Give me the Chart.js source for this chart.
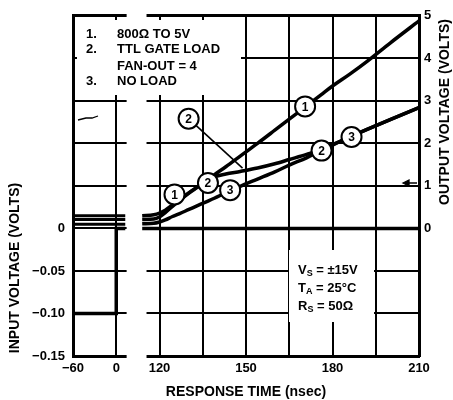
<!DOCTYPE html>
<html>
<head>
<meta charset="utf-8">
<script src="https://cdn.jsdelivr.net/npm/chart.js@4.4.1/dist/chart.umd.min.js"></script>
<style>
  html, body { margin: 0; padding: 0; background: #fff; }
  #wrap { width: 453px; height: 400px; }
</style>
</head>
<body>
<div id="wrap"><canvas id="respChart" width="453" height="400"></canvas></div>
<script>
// time before the axis break (nsec) - drawn squeezed
const inTimeLeft = [-60, 0, 0, 12.5];
const inVoltLeft = [-0.10, -0.10, 0, 0];
const outTimeLeft = [-60, 12.5];
const out1Left = [0.30, 0.30];
const out2Left = [0.21, 0.21];
const out3Left = [0.10, 0.10];

// time after the break (nsec)
const inTimeRight = [114, 210];
const inVoltRight = [0, 0];
const outTime = [114, 118, 120, 122, 124.5, 127, 130, 133, 136, 139, 143, 148, 154, 160, 165, 171, 176, 180, 186, 192, 200, 210];
const out1 = [0.30, 0.32, 0.36, 0.43, 0.55, 0.68, 0.83, 0.97, 1.11, 1.26, 1.45, 1.70, 2.00, 2.31, 2.57, 2.88, 3.14, 3.35, 3.63, 3.93, 4.36, 4.88];
const out2 = [0.21, 0.22, 0.27, 0.37, 0.52, 0.66, 0.82, 0.96, 1.10, 1.21, 1.28, 1.34, 1.42, 1.52, 1.62, 1.74, 1.85, 1.97, 2.15, 2.33, 2.56, 2.84];
const out3 = [0.11, 0.12, 0.15, 0.20, 0.28, 0.35, 0.44, 0.53, 0.62, 0.71, 0.84, 0.99, 1.16, 1.33, 1.49, 1.66, 1.83, 1.96, 2.15, 2.33, 2.56, 2.84];

// tick labels
const timeTicks = [-60, 0, 120, 150, 180, 210];
const inputTicks = [0, -0.05, -0.10, -0.15];
const inputTickText = ['0', '\u22120.05', '\u22120.10', '\u22120.15'];
const outputTicks = [0, 1, 2, 3, 4, 5];

const legendLines = [['1.', '800\u03A9 TO 5V'], ['2.', 'TTL GATE LOAD'], ['', 'FAN-OUT = 4'], ['3.', 'NO LOAD']];
const conditions = [['V', 'S', ' = \u00B115V'], ['T', 'A', ' = 25\u00B0C'], ['R', 'S', ' = 50\u03A9']];

// curve tags: label, time, output volts
const tags = [
  ['1', 125.2, 0.80], ['2', 136.8, 1.07], ['3', 144.5, 0.90],
  ['2', 130.1, 2.58], ['1', 170.5, 2.87], ['2', 176.2, 1.83], ['3', 186.6, 2.15]
];

// broken axis: the -60..0 part is squeezed 4x and sits left of 120
const ZERO_AT = 105, SQUEEZE = 4;
function toAxis(t) { return t < 60 ? ZERO_AT + t / SQUEEZE : t; }
function pts(times, volts) { return times.map((t, i) => ({ x: toAxis(t), y: volts[i] })); }

const FONT = '"Liberation Sans", Arial, sans-serif';
Chart.defaults.font.family = FONT;
Chart.defaults.color = '#000';

function line(data, axis, w, smooth) {
  return {
    data, yAxisID: axis, borderColor: '#000', borderWidth: w,
    pointRadius: 0, tension: 0, cubicInterpolationMode: smooth ? 'monotone' : 'default', fill: false
  };
}

function subText(ctx, x, y, main, sub, rest) {
  ctx.font = 'bold 13px ' + FONT;
  ctx.fillText(main, x, y);
  x += ctx.measureText(main).width;
  ctx.font = 'bold 9px ' + FONT;
  ctx.fillText(sub, x, y + 4);
  x += ctx.measureText(sub).width;
  ctx.font = 'bold 13px ' + FONT;
  ctx.fillText(rest, x, y);
}

function tag(ctx, px, py, txt) {
  ctx.beginPath();
  ctx.arc(px, py, 10, 0, Math.PI * 2);
  ctx.fillStyle = '#fff'; ctx.fill();
  ctx.lineWidth = 2; ctx.strokeStyle = '#000'; ctx.stroke();
  ctx.fillStyle = '#000';
  ctx.font = 'bold 12px "Liberation Sans Narrow", ' + FONT;
  ctx.textAlign = 'center'; ctx.textBaseline = 'middle';
  ctx.fillText(txt, px, py + 1);
}

const paper = {
  id: 'paper',
  beforeDatasetsDraw(chart) {
    const { ctx, chartArea: a, scales: { x } } = chart;
    ctx.save();
    ctx.fillStyle = '#fff';
    // axis break
    const b0 = x.getPixelForValue(108.6), b1 = x.getPixelForValue(115.5);
    ctx.fillRect(b0, a.top - 3, b1 - b0, a.bottom - a.top + 6);
    // legend box and conditions box
    ctx.fillRect(a.left + 4, 20, 241 - a.left - 4, 75);
    ctx.fillRect(289, 250, 85, 72);
    ctx.restore();
  },
  afterDatasetsDraw(chart) {
    const { ctx, scales: { x, y2 } } = chart;
    ctx.save();
    ctx.fillStyle = '#000';
    ctx.textBaseline = 'middle';
    ctx.textAlign = 'left';
    ctx.font = 'bold 13px ' + FONT;
    const ly = [34, 49, 66, 81];
    legendLines.forEach(([n, s], i) => {
      ctx.fillText(n, 86, ly[i]);
      ctx.fillText(s, 117, ly[i]);
    });
    conditions.forEach(([m, s, r], i) => subText(ctx, 298, 270 + i * 18, m, s, r));

    // leader from the upper tag 2 to curve 2
    ctx.beginPath();
    ctx.moveTo(x.getPixelForValue(130.1), y2.getPixelForValue(2.58));
    ctx.lineTo(x.getPixelForValue(148.8), y2.getPixelForValue(1.42));
    ctx.lineWidth = 1.6; ctx.strokeStyle = '#000'; ctx.stroke();

    tags.forEach(([n, t, v]) => tag(ctx, x.getPixelForValue(t), y2.getPixelForValue(v), n));

    // small axis pointers
    ctx.lineWidth = 1.3;
    ctx.beginPath();
    ctx.moveTo(406, 183); ctx.lineTo(417, 183);
    ctx.moveTo(403, 183); ctx.lineTo(409, 180); ctx.lineTo(409, 186); ctx.closePath();
    ctx.fill(); ctx.stroke();
    ctx.beginPath();
    ctx.moveTo(78, 120); ctx.lineTo(86, 118); ctx.lineTo(92, 118); ctx.lineTo(98, 116);
    ctx.stroke();
    ctx.restore();
  },
  afterDraw(chart) {
    const { ctx, chartArea: a } = chart;
    ctx.save();
    ctx.fillStyle = '#000';
    ctx.font = 'bold 14px ' + FONT;
    ctx.textAlign = 'center';
    ctx.textBaseline = 'middle';
    ctx.fillText('RESPONSE TIME (nsec)', (a.left + a.right) / 2, 392);
    ctx.translate(15, 268);
    ctx.rotate(-Math.PI / 2);
    ctx.fillText('INPUT VOLTAGE (VOLTS)', 0, 0);
    ctx.restore();
    ctx.save();
    ctx.fillStyle = '#000';
    ctx.font = 'bold 14px ' + FONT;
    ctx.textAlign = 'center';
    ctx.textBaseline = 'middle';
    ctx.translate(445, 112);
    ctx.rotate(-Math.PI / 2);
    ctx.fillText('OUTPUT VOLTAGE (VOLTS)', 0, 0);
    ctx.restore();
  }
};

const near = (a, b) => Math.abs(a - b) < 1e-6;

new Chart(document.getElementById('respChart'), {
  type: 'line',
  data: {
    datasets: [
      line(pts(inTimeLeft, inVoltLeft), 'y', 3.5, false),
      line(pts(inTimeRight, inVoltRight), 'y', 3.5, false),
      line(pts(outTimeLeft, out1Left), 'y2', 3, false),
      line(pts(outTimeLeft, out2Left), 'y2', 3, false),
      line(pts(outTimeLeft, out3Left), 'y2', 3, false),
      line(pts(outTime, out1), 'y2', 3.5, true),
      line(pts(outTime, out2), 'y2', 3.5, true),
      line(pts(outTime, out3), 'y2', 3.5, true)
    ]
  },
  options: {
    responsive: false,
    animation: false,
    devicePixelRatio: 1,
    layout: { padding: { top: 12, left: 0, right: 0, bottom: 0 } },
    plugins: { legend: { display: false }, tooltip: { enabled: false } },
    scales: {
      x: {
        type: 'linear', min: 90, max: 210,
        afterFit: s => { s.height = 44; },
        grid: { color: '#000', lineWidth: 2, drawTicks: false },
        border: { color: '#000', width: 3 },
        ticks: {
          stepSize: 15, padding: 5, maxRotation: 0, autoSkip: false,
          font: { size: 13, weight: 'bold' },
          callback: v => {
            const t = timeTicks.find(tt => near(toAxis(tt), v));
            return t === undefined ? '' : (t < 0 ? '\u2212' + (-t) : String(t));
          }
        }
      },
      y: {
        position: 'left', min: -0.15, max: 0.25,
        afterFit: s => { s.width = 73; },
        grid: {
          color: '#000', drawTicks: false,
          lineWidth: c => (c.tick && near(c.tick.value, 0.25)) ? 3 : 2
        },
        border: { color: '#000', width: 3 },
        ticks: {
          stepSize: 0.05, padding: 8, autoSkip: false,
          font: { size: 13, weight: 'bold' },
          callback: v => {
            const i = inputTicks.findIndex(t => near(t, v));
            return i < 0 ? '' : inputTickText[i];
          }
        }
      },
      y2: {
        position: 'right', min: -3, max: 5,
        afterFit: s => { s.width = 34; },
        grid: { drawOnChartArea: false, drawTicks: false },
        border: { color: '#000', width: 3 },
        ticks: {
          stepSize: 1, padding: 5, autoSkip: false,
          font: { size: 13, weight: 'bold' },
          callback: v => outputTicks.some(t => near(t, v)) ? String(v) : ''
        }
      }
    }
  },
  plugins: [paper]
});
</script>
</body>
</html>
